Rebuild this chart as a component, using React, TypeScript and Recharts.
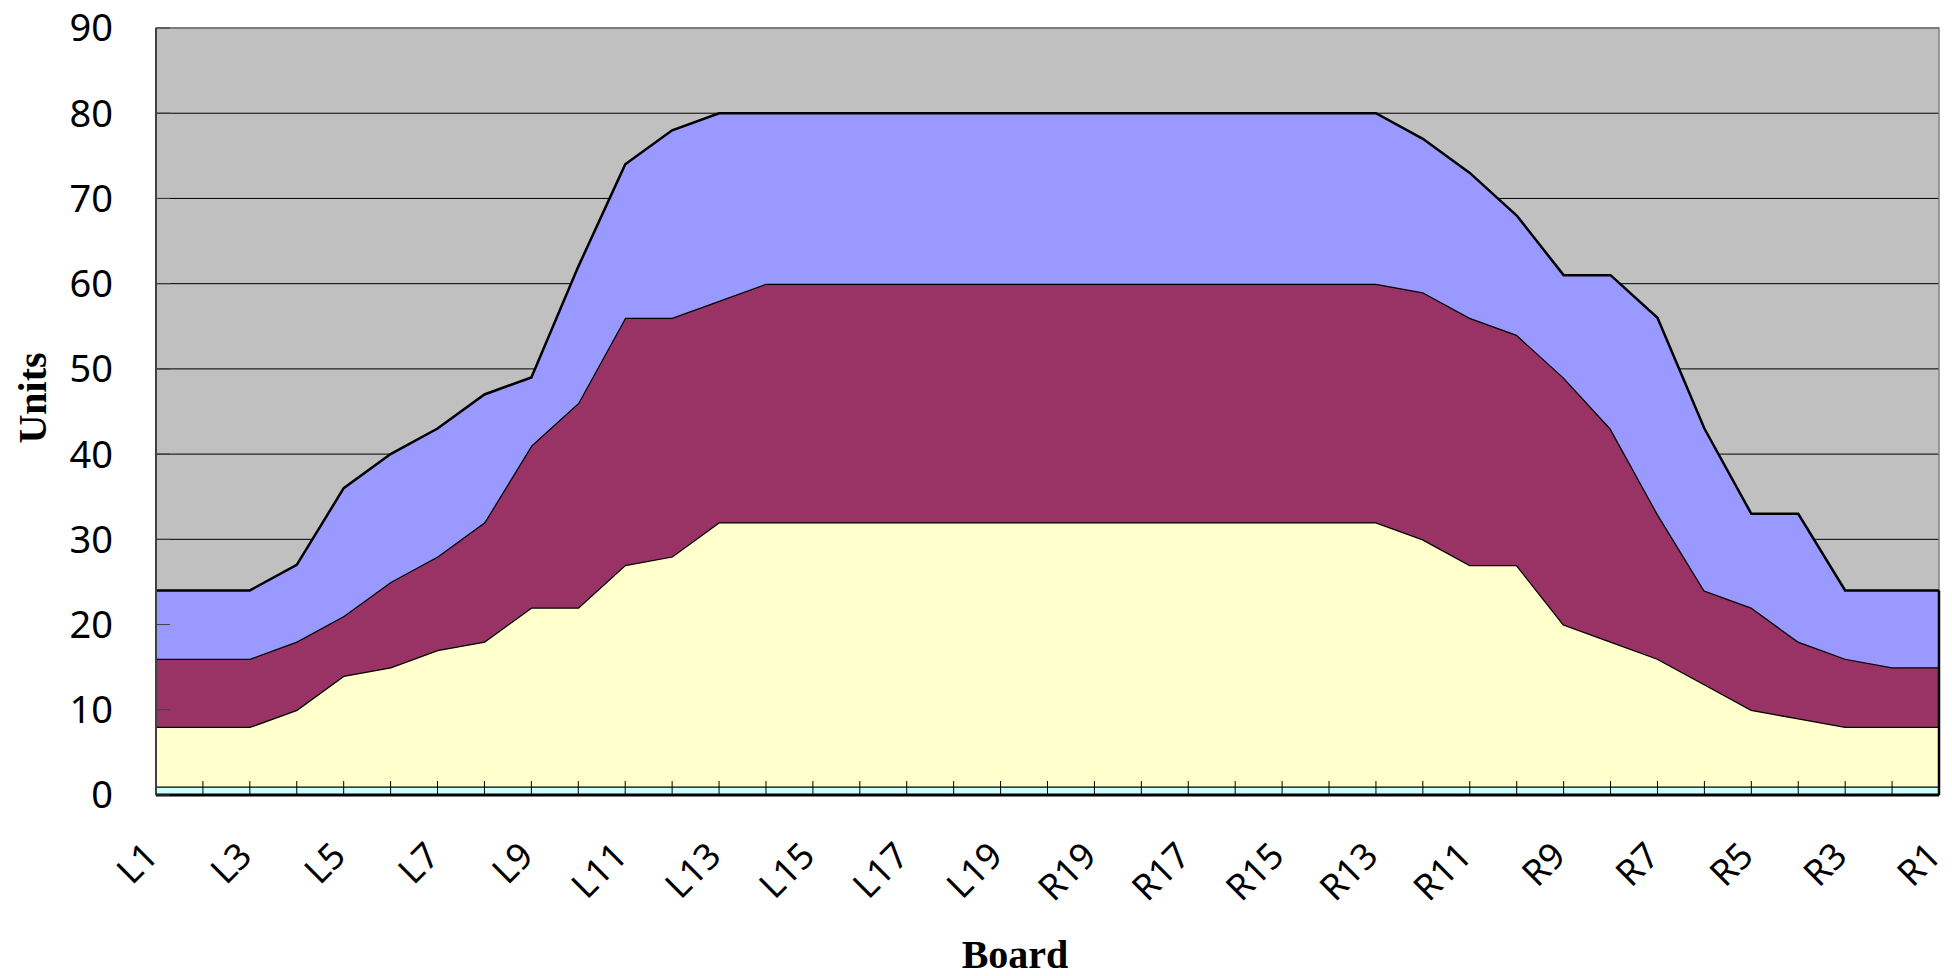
import {
  AreaChart,
  Area,
  XAxis,
  YAxis,
  CartesianGrid,
  Label,
  ReferenceArea,
  ReferenceLine,
} from 'recharts';

// board positions, left side then right side
const boards = [
  'L1', 'L2', 'L3', 'L4', 'L5', 'L6', 'L7', 'L8', 'L9', 'L10',
  'L11', 'L12', 'L13', 'L14', 'L15', 'L16', 'L17', 'L18', 'L19', 'L20',
  'R19', 'R18', 'R17', 'R16', 'R15', 'R14', 'R13', 'R12', 'R11', 'R10',
  'R9', 'R8', 'R7', 'R6', 'R5', 'R4', 'R3', 'R2', 'R1',
];

// stacked layers, bottom to top
const baseLayer = [
  1, 1, 1, 1, 1, 1, 1, 1, 1, 1,
  1, 1, 1, 1, 1, 1, 1, 1, 1, 1,
  1, 1, 1, 1, 1, 1, 1, 1, 1, 1,
  1, 1, 1, 1, 1, 1, 1, 1, 1,
];
const lowLayer = [
  7, 7, 7, 9, 13, 14, 16, 17, 21, 21,
  26, 27, 31, 31, 31, 31, 31, 31, 31, 31,
  31, 31, 31, 31, 31, 31, 31, 29, 26, 26,
  19, 17, 15, 12, 9, 8, 7, 7, 7,
];
const midLayer = [
  8, 8, 8, 8, 7, 10, 11, 14, 19, 24,
  29, 28, 26, 28, 28, 28, 28, 28, 28, 28,
  28, 28, 28, 28, 28, 28, 28, 29, 29, 27,
  29, 25, 17, 11, 12, 9, 8, 7, 7,
];
const highLayer = [
  8, 8, 8, 9, 15, 15, 15, 15, 8, 16,
  18, 22, 22, 20, 20, 20, 20, 20, 20, 20,
  20, 20, 20, 20, 20, 20, 20, 18, 17, 14,
  12, 18, 23, 19, 11, 15, 8, 9, 9,
];

const yTicks = [0, 10, 20, 30, 40, 50, 60, 70, 80, 90];

const data = boards.map((board, i) => ({
  board,
  base: baseLayer[i],
  low: lowLayer[i],
  mid: midLayer[i],
  high: highLayer[i],
}));

const last = data.length - 1;
const lastTotal = baseLayer[last] + lowLayer[last] + midLayer[last] + highLayer[last];

const FONT = '"Noto Sans", sans-serif';
const TITLE_FONT = '"Liberation Serif", "Times New Roman", serif';

function BoardTick(props: any) {
  const { x, y, payload, index } = props;
  if (index % 2 !== 0) return <g />;
  const ax = x + 4;
  return (
    <text
      x={ax}
      y={y}
      textAnchor="end"
      transform={`rotate(-45, ${ax}, ${y})`}
      fontSize={36}
      fontFamily={FONT}
      fill="#000"
    >
      {payload.value}
    </text>
  );
}

export default function App() {
  return (
    <div style={{ position: 'absolute', left: 0, top: 0, background: '#fff' }}>
      <AreaChart
        width={1952}
        height={976}
        data={data}
        margin={{ top: 28, right: 13, left: 0, bottom: 0 }}
      >
        <CartesianGrid
          vertical={false}
          stroke="#000"
          strokeWidth={1}
          fill="#C0C0C0"
          fillOpacity={1}
        />
        <XAxis
          dataKey="board"
          height={181}
          interval={0}
          tickSize={-14}
          tickMargin={77}
          tick={BoardTick}
          tickLine={{ stroke: '#000', strokeWidth: 1 }}
          axisLine={{ stroke: '#000', strokeWidth: 3 }}
        >
          <Label
            content={() => (
              <text
                x={1015}
                y={968}
                textAnchor="middle"
                fontSize={40}
                fontWeight="bold"
                fontFamily={TITLE_FONT}
                fill="#000"
              >
                Board
              </text>
            )}
          />
        </XAxis>
        <YAxis
          width={156}
          domain={[0, 90]}
          ticks={yTicks}
          interval={0}
          tickSize={-14}
          tickMargin={57}
          tick={{ fontSize: 38, fill: '#000', fontFamily: FONT }}
          tickLine={{ stroke: '#404040', strokeWidth: 1 }}
          axisLine={{ stroke: '#404040', strokeWidth: 2 }}
        >
          <Label
            content={() => (
              <text
                x={46}
                y={398}
                textAnchor="middle"
                transform="rotate(-90, 46, 398)"
                fontSize={40}
                fontWeight="bold"
                fontFamily={TITLE_FONT}
                fill="#000"
              >
                Units
              </text>
            )}
          />
        </YAxis>
        <ReferenceArea
          x1={boards[0]}
          x2={boards[last]}
          y1={0}
          y2={90}
          fill="none"
          stroke="#808080"
          strokeWidth={1.5}
          ifOverflow="visible"
        />
        <Area
          type="linear"
          dataKey="base"
          stackId="a"
          fill="#CCFFFF"
          fillOpacity={1}
          stroke="#000"
          strokeWidth={2.5}
          dot={false}
          activeDot={false}
          isAnimationActive={false}
        />
        <Area
          type="linear"
          dataKey="low"
          stackId="a"
          fill="#FFFFCC"
          fillOpacity={1}
          stroke="#000"
          strokeWidth={2.5}
          dot={false}
          activeDot={false}
          isAnimationActive={false}
        />
        <Area
          type="linear"
          dataKey="mid"
          stackId="a"
          fill="#993366"
          fillOpacity={1}
          stroke="#000"
          strokeWidth={2.5}
          dot={false}
          activeDot={false}
          isAnimationActive={false}
        />
        <Area
          type="linear"
          dataKey="high"
          stackId="a"
          fill="#9999FF"
          fillOpacity={1}
          stroke="#000"
          strokeWidth={2.5}
          dot={false}
          activeDot={false}
          isAnimationActive={false}
        />
        <ReferenceLine
          segment={[
            { x: boards[last], y: 0 },
            { x: boards[last], y: lastTotal },
          ]}
          stroke="#000"
          strokeWidth={2.5}
          ifOverflow="visible"
        />
      </AreaChart>
    </div>
  );
}
